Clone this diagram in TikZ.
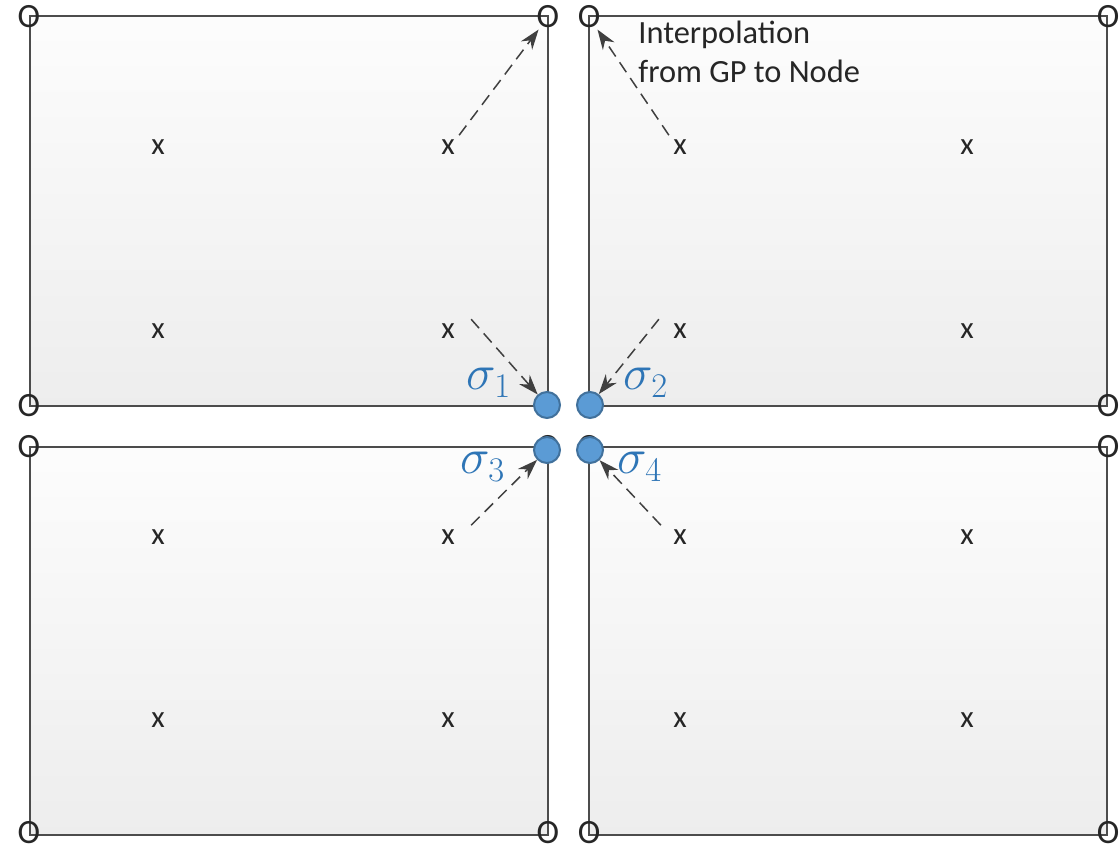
\documentclass[tikz,border=0pt]{standalone}
\usepackage{fontspec}
\setmainfont{Carlito}
\usepackage{amsmath}
\usepackage{xcolor}
\usetikzlibrary{arrows.meta}
\definecolor{nodeblue}{HTML}{5B9BD5}
\definecolor{nodeedge}{HTML}{41719C}
\definecolor{sigblue}{HTML}{2E75B6}

\begin{document}
\begin{tikzpicture}[
  x=0.5pt, y=-0.5pt,
  elem/.style={draw=black!70, line width=1pt, top color=black!1, bottom color=black!7},
  corner/.style={inner sep=0.5pt, text=black!85, font=\fontsize{17}{19}\selectfont},
  gp/.style={inner sep=2pt, text=black!85, font=\fontsize{15.5}{19}\selectfont},
  snode/.style={circle, draw=nodeedge, fill=nodeblue, line width=1pt, minimum size=13pt, inner sep=0pt},
  slabel/.style={text=sigblue, font=\fontsize{27}{32}\selectfont},
  interp/.style={-{Stealth[length=10pt,width=7pt]}, draw=black!75, line width=0.75pt, dash pattern=on 6pt off 3.5pt}
]
  \useasboundingbox (0,0) rectangle (1120,848);
  % elements
  \draw[elem] (30,16) rectangle (548,406);
  \draw[elem] (589,16) rectangle (1107,406);
  \draw[elem] (30,447) rectangle (548,835);
  \draw[elem] (589,447) rectangle (1107,835);
  % element nodes
  \node[corner] (c1) at (29,17) {O};
  \node[corner] (c2) at (548,17) {O};
  \node[corner] (c3) at (29,406) {O};
  \node[corner] (c4) at (548,406) {O};
  \node[corner] (c5) at (589,17) {O};
  \node[corner] (c6) at (1108,17) {O};
  \node[corner] (c7) at (589,406) {O};
  \node[corner] (c8) at (1108,406) {O};
  \node[corner] (c9) at (29,447) {O};
  \node[corner] (c10) at (548,447) {O};
  \node[corner] (c11) at (29,833) {O};
  \node[corner] (c12) at (548,833) {O};
  \node[corner] (c13) at (589,447) {O};
  \node[corner] (c14) at (1108,447) {O};
  \node[corner] (c15) at (589,833) {O};
  \node[corner] (c16) at (1108,833) {O};
  % gauss points
  \node[gp] (g1) at (158,147) {x};
  \node[gp] (g2) at (448,147) {x};
  \node[gp] (g3) at (158,331) {x};
  \node[gp] (g4) at (448,331) {x};
  \node[gp] (g5) at (680,147) {x};
  \node[gp] (g6) at (967,147) {x};
  \node[gp] (g7) at (680,331) {x};
  \node[gp] (g8) at (967,331) {x};
  \node[gp] (g9) at (158,537) {x};
  \node[gp] (g10) at (448,537) {x};
  \node[gp] (g11) at (158,720) {x};
  \node[gp] (g12) at (448,720) {x};
  \node[gp] (g13) at (680,537) {x};
  \node[gp] (g14) at (967,537) {x};
  \node[gp] (g15) at (680,720) {x};
  \node[gp] (g16) at (967,720) {x};
  % stresses at the shared node
  \node[snode] (s1) at (547,405) {};
  \node[snode] (s2) at (590,405) {};
  \node[snode] (s3) at (547,450) {};
  \node[snode] (s4) at (590,450) {};
  \node[slabel] (l1) at (489,383) {$\sigma_1$};
  \node[slabel] (l2) at (646,383) {$\sigma_2$};
  \node[slabel] (l3) at (483,467) {$\sigma_3$};
  \node[slabel] (l4) at (640,467) {$\sigma_4$};
  % interpolation
  \draw[interp] (g2.north east) -- (c2);
  \draw[interp] (g5.north west) -- (c5);
  \draw[interp] ([xshift=6pt]g4.north east) -- (s1);
  \draw[interp] ([xshift=-5pt]g7.north west) -- (s2);
  \draw[interp] ([xshift=6pt]g10.north east) -- (s3);
  \draw[interp] ([xshift=-4pt]g13.north west) -- (s4);
  \node[anchor=north west, inner sep=0pt, align=left, text=black!85,
        font=\fontsize{16.2}{19.5}\selectfont] (txt) at (638,21)
        {Interpolation\\from GP to Node};
\end{tikzpicture}
\end{document}
